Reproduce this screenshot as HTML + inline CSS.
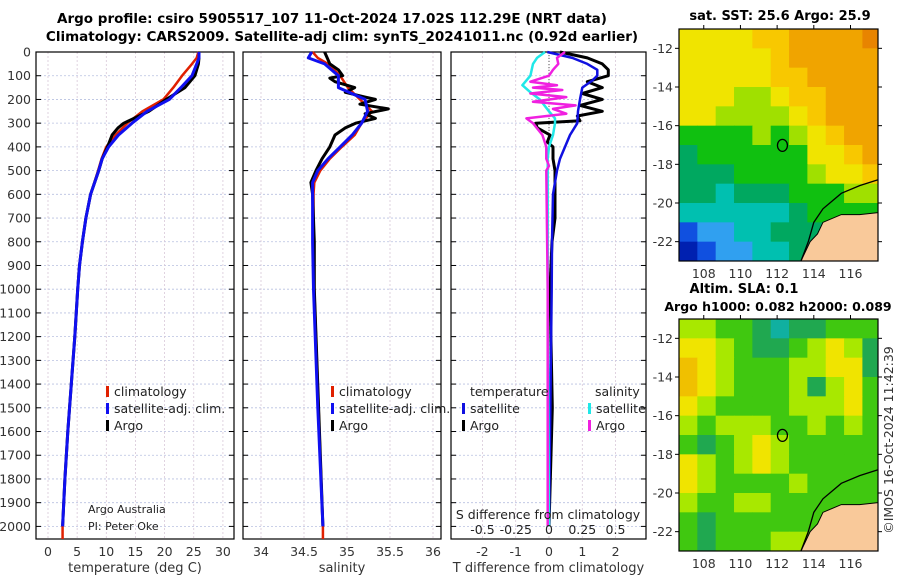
<!DOCTYPE html>
<html><head><meta charset="utf-8"><style>
html,body{margin:0;padding:0;background:#fff;}
svg{display:block;font-family:"DejaVu Sans","Liberation Sans",sans-serif;}
</style></head><body>
<svg id="c" width="900" height="580" viewBox="0 0 900 580" xmlns="http://www.w3.org/2000/svg">
<g font-weight="bold" font-size="13.5" text-anchor="middle" fill="#000">
<text x="332" y="23">Argo profile: csiro 5905517_107 11-Oct-2024 17.02S 112.29E (NRT data)</text>
<text x="342" y="41">Climatology: CARS2009. Satellite-adj clim: synTS_20241011.nc (0.92d earlier)</text>
<text x="780" y="20" font-size="13">sat. SST: 25.6 Argo: 25.9</text>
<text x="744" y="293" font-size="13">Altim. SLA: 0.1</text>
<text x="778" y="311" font-size="12.5">Argo h1000: 0.082 h2000: 0.089</text>
</g>
<text x="0" y="0" font-size="12.5" fill="#333" text-anchor="middle" transform="translate(893,440) rotate(-90)">©IMOS 16-Oct-2024 11:42:39</text>
</svg>
<script>
// ---------- data ----------
const depths = [0,25,50,100,150,200,250,300,350,400,450,500,600,700,800,900,1000,1200,1400,1600,1800,2000];
const tempClim = [25.8,25.5,24.7,23.0,21.5,19.8,16.2,13.6,11.6,10.0,9.2,8.6,7.3,6.5,5.9,5.4,5.1,4.6,4.0,3.4,2.9,2.5];
const tempSat  = [25.9,25.9,25.5,24.7,22.8,20.8,17.0,14.4,12.1,10.4,9.3,8.7,7.3,6.5,5.9,5.4,5.1,4.6,4.0,3.4,2.9,2.5];
const tempArgoDepth = [0,25,50,100,150,200,250,300,320,350,400,450,500,600,700,800,900,1000,1200,1400,1600,1800,2000];
const tempArgo = [25.9,25.9,25.8,25.2,23.5,20.3,17.3,13.0,12.0,11.0,10.2,9.3,8.7,7.3,6.5,5.9,5.4,5.1,4.6,4.0,3.4,2.9,2.5];

const salDepth = [0,25,50,100,150,200,250,300,350,400,450,500,550,600,800,1000,1500,2000];
const salClim = [34.60,34.66,34.78,34.92,35.01,35.15,35.29,35.17,35.09,34.94,34.80,34.69,34.62,34.61,34.61,34.62,34.67,34.72];
const salSat  = [34.59,34.55,34.74,34.90,34.90,35.21,35.24,35.17,35.06,34.92,34.78,34.66,34.60,34.60,34.60,34.61,34.66,34.72];
const salArgoDepth = [0,25,50,75,100,110,125,150,170,190,200,220,240,260,280,300,320,350,400,450,500,550,600,800,1000,1500,2000];
const salArgo = [34.74,34.77,34.80,34.90,34.95,34.80,34.86,35.09,34.98,35.21,35.33,35.15,35.48,35.21,35.33,35.10,34.98,34.86,34.80,34.71,34.64,34.58,34.60,34.62,34.62,34.67,34.72];

const dtSatDepth = [0,25,50,75,100,120,150,200,250,300,350,400,450,500,600,800,1000,1500,2000];
const dtSat = [-0.05,0.7,1.15,1.45,1.45,1.3,1.0,0.93,0.87,0.85,0.63,0.48,0.33,0.24,0.12,0.09,0.08,0.04,0.0];
const dtArgoDepth = [0,25,50,75,100,125,150,175,200,225,250,270,290,300,320,350,380,400,450,500,600,700,800,1000,1500,2000];
const dtArgo = [0.33,1.15,1.6,1.78,1.78,1.15,1.6,1.0,1.6,0.93,1.6,0.85,0.93,-0.4,-0.35,0.03,-0.05,0.12,0.12,0.18,0.18,0.18,0.09,0.03,0.1,0.0];
const dsSatDepth = [0,25,50,100,140,170,200,250,280,300,350,400,450,500,1000,2000];
const dsSat = [-0.03,-0.09,-0.12,-0.14,-0.2,-0.14,-0.07,0.0,0.045,0.045,0.03,0.0,-0.01,-0.01,-0.01,0.0];
const dsArgoDepth = [0,25,50,75,100,125,140,150,160,175,190,210,225,240,260,280,300,350,400,450,480,500,1000,2000];
const dsArgo = [0.12,0.06,0.07,0.03,0.0,-0.14,0.06,-0.12,0.1,-0.14,0.13,-0.12,0.2,0.03,0.13,-0.17,-0.12,-0.05,-0.02,-0.02,0.0,-0.02,-0.01,-0.01];

const depthTicks = [0,100,200,300,400,500,600,700,800,900,1000,1100,1200,1300,1400,1500,1600,1700,1800,1900,2000];
const tempTicks = [0,5,10,15,20,25,30];
const salTicks = [34,34.5,35,35.5,36];
const salTickLabels = ["34","34.5","35","35.5","36"];
const dtTicks = [-2,-1,0,1,2];
const dsTicks = [-0.5,-0.25,0,0.25,0.5];
const dsTickLabels = ["-0.5","-0.25","0","0.25","0.5"];

const lonTicks = [108,110,112,114,116];
const latTicks = [-12,-14,-16,-18,-20,-22];
const sstGrid = [
 [7,7,7,7,8,8,9,9,9,9,10],
 [7,7,7,7,7,8,9,9,9,9,9],
 [7,7,7,7,7,8,8,9,9,9,9],
 [7,7,7,6,6,7,8,8,9,9,9],
 [7,7,6,6,6,6,7,8,9,9,9],
 [5,5,5,5,6,5,6,7,8,9,9],
 [4,5,5,5,5,5,5,7,7,8,9],
 [4,4,4,5,5,5,5,6,7,7,8],
 [4,4,3,4,4,4,5,5,5,6,6],
 [3,3,3,3,3,3,4,5,5,5,5],
 [1,2,2,3,3,4,4,4,5,5,5],
 [0,1,2,2,3,3,4,4,5,5,5]];
const slaGrid = [
 [3,3,2,2,1,0,1,1,2,2,2],
 [4,4,3,2,1,1,2,3,4,3,1],
 [5,4,3,2,2,2,3,3,4,4,1],
 [5,4,3,2,2,2,3,1,3,4,2],
 [4,3,2,2,2,2,3,3,3,4,2],
 [3,2,3,3,3,2,2,3,2,3,2],
 [2,1,2,3,4,3,2,2,2,2,2],
 [4,3,2,3,4,3,2,2,2,2,2],
 [4,3,2,2,2,2,3,2,2,2,2],
 [3,2,2,3,3,2,2,2,2,2,2],
 [2,1,2,2,2,2,2,2,2,2,2],
 [2,1,2,2,2,3,3,2,2,2,2]];
const coastLon = [113.3,113.8,114.2,114.5,115.5,116.5,117.5];
const coastLat = [-23,-22,-21.6,-21,-20.6,-20.6,-20.5];
const contourLon = [113.3,113.7,114.0,114.5,115.5,116.5,117.5];
const contourLat = [-23,-22,-21,-20.3,-19.5,-19.1,-18.8];
const argoLon = 112.29, argoLat = -17.02;

// ---------- drawing ----------
const NS='http://www.w3.org/2000/svg';
const svg=document.getElementById('c');
function mk(tag,attrs,parent){const e=document.createElementNS(NS,tag);for(const k in attrs)e.setAttribute(k,attrs[k]);(parent||svg).appendChild(e);return e;}

const Y0=52, PXD=0.2372, YB=539;
const yD=d=>Y0+d*PXD;
const panels=[
 {x0:36,x1:234,f:v=>48+v*5.83,ticks:tempTicks,labels:tempTicks.map(String),title:'temperature (deg C)',name:'temperature-panel'},
 {x0:243,x1:441,f:v=>261+(v-34)*86,ticks:salTicks,labels:salTickLabels,title:'salinity',name:'salinity-panel'},
 {x0:451,x1:646,f:v=>549+v*33.3,ticks:dtTicks,labels:dtTicks.map(String),title:'T difference from climatology',name:'difference-panel'}
];
const fS=v=>549+v*133;

panels.forEach((p,pi)=>{
 const g=mk('g',{});
 
 
 depthTicks.forEach(d=>{
  const l=mk('line',{x1:p.x0,x2:p.x1,y1:yD(d),y2:yD(d),stroke:'#b8c0e0','stroke-width':0.8,'stroke-dasharray':'2,2'},g);
  
  
  mk('line',{x1:p.x0,x2:p.x0+5,y1:yD(d),y2:yD(d),stroke:'#000'},g);
  mk('line',{x1:p.x1-5,x2:p.x1,y1:yD(d),y2:yD(d),stroke:'#000'},g);
 });
 p.ticks.forEach((t,i)=>{
  const x=p.f(t);
  const l=mk('line',{x1:x,x2:x,y1:Y0,y2:YB,stroke:'#d8c8d8','stroke-width':0.8,'stroke-dasharray':'2,2'},g);
  
  
  const tx=mk('text',{x:x,y:556,'font-size':12.5,fill:'#333','text-anchor':'middle'},g);
  tx.textContent=p.labels[i];
  
  
 });
 const tt=mk('text',{x:(p.x0+p.x1)/2,y:572,'font-size':13,fill:'#333','text-anchor':'middle'},g);
 tt.textContent=p.title;
 
 
 const fr=mk('rect',{x:p.x0,y:Y0,width:p.x1-p.x0,height:YB-Y0,fill:'none',stroke:'#000','stroke-width':1.2},g);
 
 
});
depthTicks.forEach(d=>{
 const t=mk('text',{x:31,y:yD(d)+4.5,'font-size':12.5,fill:'#333','text-anchor':'end'});
 t.textContent=String(d);
 
 
});

function line(ds,vs,f,color,w,name){
 const pts=ds.map((d,i)=>f(vs[i]).toFixed(1)+','+yD(d).toFixed(1)).join(' ');
 const pl=mk('polyline',{points:pts,fill:'none',stroke:color,'stroke-width':w,'stroke-linejoin':'round'});
 
 
}
const P=panels;
function ext(f,v,name){const l=mk('line',{x1:f(v),x2:f(v),y1:yD(2000),y2:YB,stroke:'#e02000','stroke-width':2.5});}
line(depths,tempClim,P[0].f,'#e02000',2.5,'temperature-climatology-line');
line(tempArgoDepth,tempArgo,P[0].f,'#000',3,'temperature-argo-line');
line(depths,tempSat,P[0].f,'#1010f0',3,'temperature-satellite-line');
ext(P[0].f,tempClim[tempClim.length-1],'temperature-climatology-bottom');
line(salDepth,salClim,P[1].f,'#e02000',2.5,'salinity-climatology-line');
line(salArgoDepth,salArgo,P[1].f,'#000',3,'salinity-argo-line');
line(salDepth,salSat,P[1].f,'#1010f0',3,'salinity-satellite-line');
ext(P[1].f,salClim[salClim.length-1],'salinity-climatology-bottom');
(()=>{const l=mk('line',{x1:549,x2:549,y1:Y0,y2:yD(400),stroke:'#555','stroke-width':1,'stroke-dasharray':'1,2'});})();
line(dtArgoDepth,dtArgo,P[2].f,'#000',3,'t-diff-argo-line');
line(dtSatDepth,dtSat,P[2].f,'#1010e0',2.5,'t-diff-satellite-line');
line(dsSatDepth,dsSat,fS,'#20e8e8',2.5,'s-diff-satellite-line');
line(dsArgoDepth,dsArgo,fS,'#f020e0',2.5,'s-diff-argo-line');

(()=>{
 const t=mk('text',{x:548,y:519,'font-size':12.5,fill:'#222','text-anchor':'middle'});
 t.textContent='S difference from climatology';
 
 
 dsTicks.forEach((v,i)=>{
  const s=mk('text',{x:fS(v),y:534,'font-size':12.5,fill:'#222','text-anchor':'middle'});
  s.textContent=dsTickLabels[i];
  
  
 });
})();

function leg(x,y,color,label,name){
 const g=mk('g',{});
 
 
 mk('rect',{x:x,y:y-10,width:3,height:11,fill:color},g);
 const t=mk('text',{x:x+8,y:y,'font-size':12.5,fill:'#222'},g);
 t.textContent=label;
}
leg(106,396,'#e02000','climatology','legend-temp-climatology');
leg(106,413,'#1010f0','satellite-adj. clim.','legend-temp-satellite');
leg(106,430,'#000','Argo','legend-temp-argo');
leg(331,396,'#e02000','climatology','legend-sal-climatology');
leg(331,413,'#1010f0','satellite-adj. clim.','legend-sal-satellite');
leg(331,430,'#000','Argo','legend-sal-argo');
leg(462,413,'#1010e0','satellite','legend-tdiff-satellite');
leg(462,430,'#000','Argo','legend-tdiff-argo');
leg(588,413,'#20e8e8','satellite','legend-sdiff-satellite');
leg(588,430,'#f020e0','Argo','legend-sdiff-argo');
function txt(x,y,s,size,name){const t=mk('text',{x:x,y:y,'font-size':size,fill:'#222'});t.textContent=s;}
txt(470,396,'temperature',12.5,'legend-temperature-header');
txt(595,396,'salinity',12.5,'legend-salinity-header');
txt(88,513,'Argo Australia',11,'credit-argo-australia');
txt(88,530,'PI: Peter Oke',11,'credit-pi');

const MX0=679,MX1=878,LON0=106.65,LON1=117.5;
const mxf=lon=>MX0+(lon-LON0)*(MX1-MX0)/(LON1-LON0);
const sstColors=['#0020b0','#1050e0','#30a0f0','#00c0b0','#00a860','#10c010','#a0e000','#f0e400','#f8c800','#f0a400','#e88400'];
const slaColors=['#10b0a0','#20a850','#40c810','#a8e800','#f0e400','#f0c000'];
function map(grid,colors,top,bot,name){
 const g=mk('g',{});
 
 
 const myf=lat=>top+(-11-lat)*(bot-top)/12;
 grid.forEach((row,r)=>row.forEach((v,c)=>{
  const x=mxf(LON0+c), x2=Math.min(mxf(LON0+c+1),MX1);
  const cell=mk('rect',{x:x,y:myf(-11-r),width:x2-x+0.5,height:myf(-12-r)-myf(-11-r)+0.5,fill:colors[v]},g);
  
  
 }));
 let pts=coastLon.map((l,i)=>mxf(l)+','+myf(coastLat[i])).join(' ');
 const land=mk('polygon',{points:pts+' '+MX1+','+bot,fill:'#f9c99a'},g);
 
 
 mk('polyline',{points:pts,fill:'none',stroke:'#000','stroke-width':1},g);
 const cp=contourLon.map((l,i)=>mxf(l)+','+myf(contourLat[i])).join(' ');
 mk('polyline',{points:cp,fill:'none',stroke:'#000','stroke-width':1.3},g);
 const m=mk('ellipse',{cx:mxf(argoLon),cy:myf(argoLat),rx:5,ry:6,fill:'none',stroke:'#000','stroke-width':1.3},g);
 
 
 mk('rect',{x:MX0,y:top,width:MX1-MX0,height:bot-top,fill:'none',stroke:'#000','stroke-width':1.2},g);
 latTicks.forEach(l=>{
  const y=myf(l);
  mk('line',{x1:MX1,x2:MX1+4,y1:y,y2:y,stroke:'#000'},g);
  mk('line',{x1:MX0-4,x2:MX0,y1:y,y2:y,stroke:'#000'},g);
  const t=mk('text',{x:MX0-6,y:y+4.5,'font-size':12.5,fill:'#333','text-anchor':'end'},g);
  t.textContent=String(l);
  
  
 });
 lonTicks.forEach(l=>{
  const x=mxf(l);
  mk('line',{x1:x,x2:x,y1:top-4,y2:top,stroke:'#000'},g);
  const t=mk('text',{x:x,y:bot+17,'font-size':12.5,fill:'#333','text-anchor':'middle'},g);
  t.textContent=String(l);
  
  
 });
}
map(sstGrid,sstColors,29,261,'sst-map');
map(slaGrid,slaColors,319,551,'sla-map');
</script>
</body></html>
